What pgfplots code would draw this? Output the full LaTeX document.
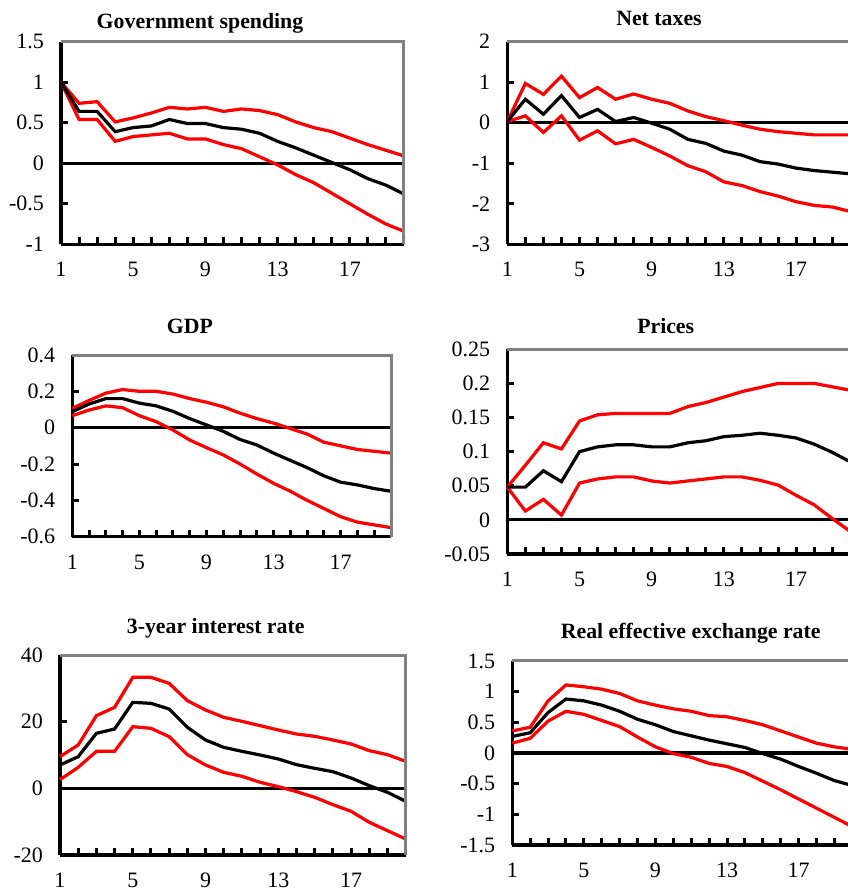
\documentclass[border=0pt]{standalone}
\usepackage{fontspec}
\setmainfont{Liberation Serif}
\usepackage{pgfplots}
\usepackage{pgfplotstable}
\pgfplotsset{compat=1.18}

\definecolor{IrfRed}{RGB}{255,0,0}
\definecolor{BoxGray}{RGB}{128,128,128}

% impulse responses: upper band, point estimate, lower band
\pgfplotstableread{
h  up    mid    lo
1  1.00  1.00   1.00
2  0.74  0.64   0.54
3  0.76  0.64   0.54
4  0.51  0.39   0.27
5  0.56  0.44   0.33
6  0.62  0.46   0.35
7  0.69  0.54   0.37
8  0.67  0.49   0.30
9  0.69  0.49   0.30
10 0.64  0.44   0.23
11 0.67  0.42   0.18
12 0.65  0.37   0.08
13 0.60  0.27  -0.02
14 0.51  0.19  -0.14
15 0.44  0.10  -0.24
16 0.39  0.01  -0.37
17 0.31 -0.08  -0.50
18 0.23 -0.19  -0.63
19 0.16 -0.27  -0.75
20 0.09 -0.38  -0.84
}\govtab

\pgfplotstableread{
h  up    mid    lo
1  0.03  0.03   0.03
2  0.97  0.58   0.17
3  0.70  0.21  -0.24
4  1.15  0.67   0.17
5  0.62  0.13  -0.43
6  0.87  0.33  -0.20
7  0.58  0.03  -0.52
8  0.71  0.13  -0.41
9  0.58 -0.01  -0.61
10 0.48 -0.16  -0.82
11 0.29 -0.41  -1.06
12 0.15 -0.51  -1.21
13 0.05 -0.70  -1.46
14 -0.06 -0.80 -1.55
15 -0.16 -0.96 -1.70
16 -0.22 -1.02 -1.81
17 -0.26 -1.12 -1.95
18 -0.30 -1.18 -2.04
19 -0.30 -1.22 -2.08
20 -0.30 -1.26 -2.19
}\taxtab

\pgfplotstableread{
h  up     mid     lo
1  0.106  0.088   0.066
2  0.150  0.130   0.097
3  0.190  0.160   0.120
4  0.210  0.160   0.110
5  0.200  0.135   0.066
6  0.200  0.120   0.033
7  0.185  0.090  -0.013
8  0.160  0.050  -0.068
9  0.140  0.015  -0.110
10 0.115 -0.020  -0.150
11 0.080 -0.065  -0.200
12 0.050 -0.095  -0.255
13 0.025 -0.140  -0.306
14 -0.005 -0.180 -0.350
15 -0.035 -0.220 -0.400
16 -0.080 -0.265 -0.445
17 -0.100 -0.300 -0.490
18 -0.120 -0.315 -0.520
19 -0.130 -0.335 -0.535
20 -0.140 -0.350 -0.550
}\gdptab

\pgfplotstableread{
h  up     mid    lo
1  0.048  0.048  0.048
2  0.080  0.048  0.013
3  0.113  0.072  0.030
4  0.104  0.056  0.007
5  0.145  0.100  0.054
6  0.154  0.107  0.060
7  0.156  0.110  0.063
8  0.156  0.110  0.063
9  0.156  0.107  0.057
10 0.156  0.107  0.054
11 0.166  0.113  0.057
12 0.172  0.116  0.060
13 0.180  0.122  0.063
14 0.188  0.124  0.063
15 0.194  0.127  0.058
16 0.200  0.124  0.051
17 0.200  0.120  0.036
18 0.200  0.111  0.022
19 0.195  0.099  0.002
20 0.190  0.085 -0.017
}\pricetab

\pgfplotstableread{
h  up    mid    lo
1  9.5   7.0    2.6
2  13.0  9.5    6.3
3  21.8  16.5   11.1
4  24.3  17.8   11.1
5  33.3  25.8   18.5
6  33.3  25.5   18.0
7  31.5  23.8   15.5
8  26.3  18.3   10.1
9  23.5  14.5   7.0
10 21.3  12.3   4.8
11 20.1  11.1   3.6
12 18.8  10.0   1.8
13 17.5  8.8    0.5
14 16.3  7.1   -1.0
15 15.6  6.0   -2.7
16 14.5  5.0   -4.9
17 13.3  3.1   -6.9
18 11.3  0.8   -10.2
19 10.1 -1.2   -12.7
20 8.1  -3.9   -15.2
}\ratetab

\pgfplotstableread{
h  up    mid    lo
1  0.36  0.27   0.16
2  0.42  0.33   0.24
3  0.85  0.66   0.52
4  1.11  0.88   0.68
5  1.08  0.85   0.63
6  1.04  0.78   0.53
7  0.97  0.68   0.43
8  0.85  0.55   0.26
9  0.78  0.46   0.10
10 0.72  0.35  -0.01
11 0.68  0.28  -0.07
12 0.61  0.21  -0.17
13 0.59  0.15  -0.22
14 0.53  0.09  -0.32
15 0.46 -0.01  -0.46
16 0.36 -0.10  -0.60
17 0.26 -0.22  -0.75
18 0.16 -0.33  -0.90
19 0.10 -0.45  -1.05
20 0.06 -0.53  -1.20
}\reertab

\pgfplotsset{
  irf/.style={
    scale only axis,
    anchor=south west,
    axis lines=left,
    axis line style={-, black, line width=1.6pt},
    xmin=1, xmax=20,
    xtick={1,...,20},
    xticklabels={1,,,,5,,,,9,,,,13,,,,17,,,},
    tick align=inside,
    major tick length=3.4pt,
    tick style={black, line width=1.5pt},
    xticklabel style={yshift=-5.5pt},
    yticklabel style={xshift=-5pt},
    tick label style={font=\fontsize{11}{13}\selectfont},
    clip=false,
    after end axis/.code={
      \draw[BoxGray, line width=1.5pt] (rel axis cs:0,1) -- (rel axis cs:1,1) -- (rel axis cs:1,0);
    },
  },
  band/.style={IrfRed, line width=1.6pt},
  est/.style={black, line width=1.6pt},
  zero/.style={black, line width=1.6pt},
}

\newcommand{\irfplots}[1]{%
  \addplot[zero] coordinates {(1,0) (20,0)};
  \addplot[band] table[x=h, y=up] {#1};
  \addplot[band] table[x=h, y=lo] {#1};
  \addplot[est] table[x=h, y=mid] {#1};
}

\begin{document}
\begin{tikzpicture}
\tikzset{ttl/.style={anchor=base, font=\fontsize{10.9}{13}\selectfont\bfseries}}

\begin{axis}[irf, at={(30.5pt,323.35pt)}, width=171.5pt, height=101.3pt,
  ymin=-1, ymax=1.5, ytick={-1,-0.5,0,0.5,1,1.5},
  yticklabels={-1,-0.5,0,0.5,1,1.5}]
  \irfplots{\govtab}
\end{axis}

\begin{axis}[irf, at={(253.65pt,323.35pt)}, width=171.5pt, height=101.3pt,
  ymin=-3, ymax=2, ytick={-3,-2,-1,0,1,2},
  yticklabels={-3,-2,-1,0,1,2}]
  \irfplots{\taxtab}
\end{axis}

\begin{axis}[irf, at={(36.15pt,177.15pt)}, width=159.35pt, height=90.85pt,
  ymin=-0.6, ymax=0.4, ytick={-0.6,-0.4,-0.2,0,0.2,0.4},
  yticklabels={-0.6,-0.4,-0.2,0,0.2,0.4}]
  \irfplots{\gdptab}
\end{axis}

\begin{axis}[irf, at={(253.65pt,168.5pt)}, width=171.5pt, height=102.35pt,
  ymin=-0.05, ymax=0.25, ytick={-0.05,0,0.05,0.1,0.15,0.2,0.25},
  yticklabels={-0.05,0,0.05,0.1,0.15,0.2,0.25}]
  \irfplots{\pricetab}
\end{axis}

\begin{axis}[irf, at={(30pt,18pt)}, width=172.85pt, height=100pt,
  ymin=-20, ymax=40, ytick={-20,0,20,40},
  yticklabels={-20,0,20,40}]
  \irfplots{\ratetab}
\end{axis}

\begin{axis}[irf, at={(256.15pt,23pt)}, width=170pt, height=92pt,
  ymin=-1.5, ymax=1.5, ytick={-1.5,-1,-0.5,0,0.5,1,1.5},
  yticklabels={-1.5,-1,-0.5,0,0.5,1,1.5}]
  \irfplots{\reertab}
\end{axis}

\node[ttl] at (100pt,431.35pt) {Government spending};
\node[ttl] at (329.5pt,432.5pt) {Net taxes};
\node[ttl] at (95pt,278.85pt) {GDP};
\node[ttl] at (332.85pt,278.85pt) {Prices};
\node[ttl] at (107.85pt,128.85pt) {3-year interest rate};
\node[ttl] at (345.35pt,126.35pt) {Real effective exchange rate};

\pgfresetboundingbox
\useasboundingbox (0,0) rectangle (424pt,445.5pt);
\end{tikzpicture}
\end{document}
